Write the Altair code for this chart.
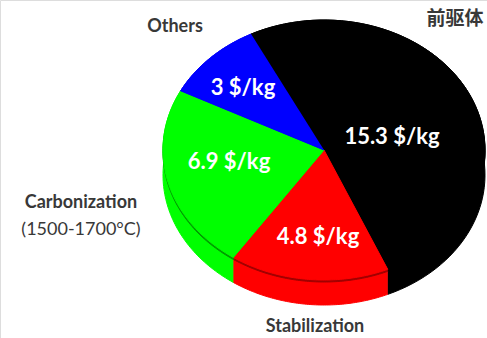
import altair as alt

# Cost breakdown of carbon fibre production ($/kg)
categories = ["前驱体", "Stabilization", "Carbonization", "Others"]
costs = [15.3, 4.8, 6.9, 3]
slice_colors = ["#000000", "#ff0000", "#00ff00", "#0000ff"]
rim_colors = ["#000000", "#a00000", "#009a00", "#00009a"]
carbonization_note = "(1500-1700°C)"
unit = " $/kg"

# canvas and tilted-pie geometry
W, H = 487, 338
CX, CY = 324, 150
RX, RY = 161, 130
DEPTH = 25
START = -0.47          # angle (rad) where the first wedge starts, clockwise from top
N = 72                 # arc resolution per wedge

x_scale = alt.Scale(domain=[-CX / RX, (W - CX) / RX], nice=False, zero=False)
y_scale = alt.Scale(domain=[-(H - CY) / RY, CY / RY], nice=False, zero=False)


def wedge_source(steps):
    """One row per wedge, each carrying the step indices of its outline."""
    records = [
        {"category": c, "cost": v, "order": i, "step": steps}
        for i, (c, v) in enumerate(zip(categories, costs))
    ]
    return (
        alt.Chart(alt.Data(values=records))
        .transform_joinaggregate(total="sum(cost)")
        .transform_window(cum="sum(cost)", sort=[alt.SortField("order")])
        .transform_calculate(
            a0=f"{START} + 2 * PI * (datum.cum - datum.cost) / datum.total",
            a1=f"{START} + 2 * PI * datum.cum / datum.total",
        )
        .transform_flatten(["step"])
    )


# top faces: centre point (step -1), then the arc
top_base = wedge_source(list(range(-1, N + 1))).transform_calculate(
    t=f"datum.a0 + (datum.a1 - datum.a0) * max(datum.step, 0) / {N}"
).transform_calculate(
    px="datum.step < 0 ? 0 : sin(datum.t)",
    py="datum.step < 0 ? 0 : cos(datum.t)",
)

# side bands: the arc along the top edge, then back along the lower edge
side_base = wedge_source(list(range(0, 2 * N + 2))).transform_calculate(
    idx=f"datum.step <= {N} ? datum.step : {2 * N + 1} - datum.step",
    drop=f"datum.step <= {N} ? 0 : {DEPTH / RY}",
).transform_calculate(
    t=f"datum.a0 + (datum.a1 - datum.a0) * datum.idx / {N}"
).transform_calculate(
    px="sin(datum.t)",
    py="cos(datum.t) - datum.drop",
)


def polygons(src, colors, y_offset=0):
    scale = alt.Scale(domain=categories, range=colors)
    return src.mark_line(yOffset=y_offset, strokeWidth=1, strokeJoin="round").encode(
        x=alt.X("px:Q", scale=x_scale, axis=None),
        y=alt.Y("py:Q", scale=y_scale, axis=None),
        fill=alt.Fill("category:N", scale=scale, legend=None),
        stroke=alt.Stroke("category:N", scale=scale, legend=None),
        detail="category:N",
        order=alt.Order("step:Q"),
    )


side = polygons(side_base, slice_colors)
rim = polygons(top_base, rim_colors, 2)
top = polygons(top_base, slice_colors)

label_src = alt.Data(values=[{"category": c, "cost": v} for c, v in zip(categories, costs)])

value_pos = {
    "前驱体": (392, 137),
    "Stabilization": (318, 237),
    "Carbonization": (229, 162),
    "Others": (243, 88),
}
name_pos = {
    "前驱体": (455, 19),
    "Stabilization": (315, 327),
    "Carbonization": (81, 203),
    "Others": (175, 27),
}

layers = [side, rim, top]

for cat in categories:
    vx, vy = value_pos[cat]
    layers.append(
        alt.Chart(label_src)
        .transform_filter(alt.datum.category == cat)
        .transform_calculate(label=f"datum.cost + '{unit}'")
        .mark_text(
            x=vx, y=vy, align="center", baseline="middle",
            font="Lato", fontWeight="bold", fontSize=22, color="#ffffff",
        )
        .encode(text="label:N")
    )
    nx, ny = name_pos[cat]
    is_cjk = cat == "前驱体"
    layers.append(
        alt.Chart(label_src)
        .transform_filter(alt.datum.category == cat)
        .mark_text(
            x=nx, y=ny, align="center", baseline="middle",
            font="Noto Sans CJK SC" if is_cjk else "Lato",
            fontWeight="bold", fontSize=19 if is_cjk else 18, color="#383838",
        )
        .encode(text="category:N")
    )

layers.append(
    alt.Chart(label_src)
    .transform_filter(alt.datum.category == "Carbonization")
    .transform_calculate(note=f"'{carbonization_note}'")
    .mark_text(
        x=81, y=230, align="center", baseline="middle",
        font="Lato", fontWeight="normal", fontSize=18, color="#383838",
    )
    .encode(text="note:N")
)

chart = (
    alt.layer(*layers)
    .resolve_scale(fill="independent", stroke="independent")
    .properties(width=W, height=H, autosize=alt.AutoSizeParams(type="none"), padding=0)
    .configure_view(stroke=None)
    .configure(background="#ffffff")
)

chart.save("out.html", embed_options={"renderer": "svg", "actions": False})
